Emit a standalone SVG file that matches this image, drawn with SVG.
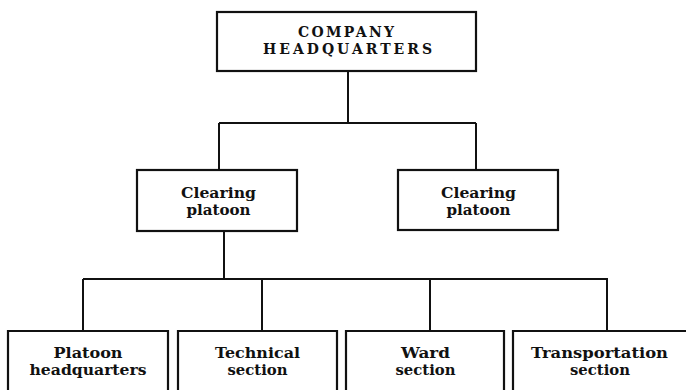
<svg xmlns="http://www.w3.org/2000/svg" width="686" height="390" viewBox="0 0 686 390">
<style>
.box{fill:none;stroke:#111;stroke-width:2.2}
.ln{fill:none;stroke:#111;stroke-width:2}
text{font-family:"DejaVu Serif","Liberation Serif",serif;font-weight:bold;fill:#111;text-anchor:middle;font-size:14px}
</style>
<rect width="686" height="390" fill="#fff"/>
<g id="connectors">
<path class="ln" d="M348 71V123M219 123H476M219 123V170M476 123V170"/>
<path class="ln" d="M224 231V279M83 279H608M83 279V331M262 279V331M430 279V331M607 279V331"/>
</g>
<g id="company-hq">
<rect class="box" x="217" y="12" width="259" height="59"/>
<text x="346" y="37" textLength="96" lengthAdjust="spacing">COMPANY</text>
<text x="347.5" y="53.5" textLength="169" lengthAdjust="spacing">HEADQUARTERS</text>
</g>
<g id="clearing-left">
<rect class="box" x="137" y="170" width="160" height="61"/>
<text x="218.5" y="198" textLength="75" lengthAdjust="spacingAndGlyphs">Clearing</text>
<text x="218.5" y="214.5" textLength="64" lengthAdjust="spacingAndGlyphs">platoon</text>
</g>
<g id="clearing-right">
<rect class="box" x="398" y="170" width="160" height="60"/>
<text x="478.5" y="198" textLength="75" lengthAdjust="spacingAndGlyphs">Clearing</text>
<text x="478.5" y="214.5" textLength="64" lengthAdjust="spacingAndGlyphs">platoon</text>
</g>
<g id="platoon-hq">
<path class="box" d="M8 392V331H168V392"/>
<text x="88" y="358" textLength="69" lengthAdjust="spacingAndGlyphs">Platoon</text>
<text x="88" y="374.5" textLength="117" lengthAdjust="spacingAndGlyphs">headquarters</text>
</g>
<g id="technical">
<path class="box" d="M178 392V331H337V392"/>
<text x="257.5" y="358" textLength="85" lengthAdjust="spacingAndGlyphs">Technical</text>
<text x="257.5" y="374.5" textLength="60" lengthAdjust="spacingAndGlyphs">section</text>
</g>
<g id="ward">
<path class="box" d="M346 392V331H504V392"/>
<text x="425.5" y="358" textLength="49" lengthAdjust="spacingAndGlyphs">Ward</text>
<text x="425.5" y="374.5" textLength="60" lengthAdjust="spacingAndGlyphs">section</text>
</g>
<g id="transportation">
<path class="box" d="M513 392V331H690"/>
<text x="599.5" y="358" textLength="137" lengthAdjust="spacingAndGlyphs">Transportation</text>
<text x="600" y="374.5" textLength="60" lengthAdjust="spacingAndGlyphs">section</text>
</g>
</svg>
